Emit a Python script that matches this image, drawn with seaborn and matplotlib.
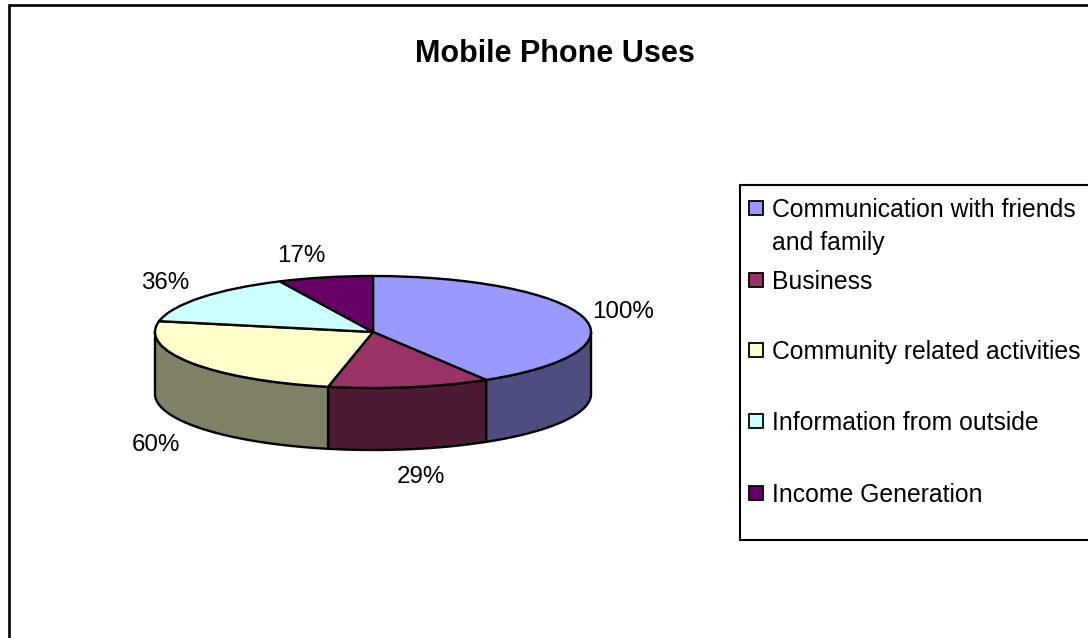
import matplotlib
matplotlib.use("Agg")
import matplotlib.pyplot as plt
from matplotlib.patches import Rectangle
from matplotlib.lines import Line2D
from matplotlib.transforms import Affine2D
import numpy as np
import seaborn as sns

# Survey responses
categories = [
    "Communication with friends\nand family",
    "Business",
    "Community related activities",
    "Information from outside",
    "Income Generation",
]
values = [100, 29, 60, 36, 17]
colors = ["#9999FF", "#993366", "#FFFFCC", "#CCFFFF", "#660066"]
title = "Mobile Phone Uses"

WIDTH, HEIGHT = 1088, 638
CX, CY, RX, RY = 373, 332, 218, 56   # top ellipse, in pixels
DEPTH = 62 / RY                      # wall height, in pie radii
EDGE = 1.7

sns.set_theme(style="white", font="Liberation Sans")
palette = sns.color_palette(colors)

fig = plt.figure(figsize=(WIDTH / 100, HEIGHT / 100), dpi=100, facecolor="white")
ax = fig.add_axes([0, 0, 1, 1])

# Pixel coordinates measured from the top-left corner of the figure
px = Affine2D().scale(1 / WIDTH, -1 / HEIGHT).translate(0, 1) + fig.transFigure

# Top face of the disc: an ordinary pie squashed by the axes scaling
ax.pie(
    values,
    colors=palette,
    startangle=90,
    counterclock=False,
    radius=1,
    wedgeprops=dict(edgecolor="black", linewidth=EDGE, joinstyle="round", zorder=3),
)
ax.set_aspect("auto")
ax.set_xlim(-CX / RX, (WIDTH - CX) / RX)
ax.set_ylim((CY - HEIGHT) / RY, CY / RY)
ax.axis("off")

# Side wall of the disc: only the front half of the rim is visible
edges = np.cumsum([0] + values) / sum(values) * 360
for start, stop, color in zip(edges[:-1], edges[1:], palette):
    lo, hi = max(start, 90), min(stop, 270)
    if lo >= hi:
        continue
    theta = np.radians(np.linspace(lo, hi, 80))
    x, y = np.sin(theta), np.cos(theta)
    ax.fill(
        np.r_[x, x[::-1]],
        np.r_[y, y[::-1] - DEPTH],
        facecolor=tuple(c * 0.5 for c in color),
        edgecolor="black",
        linewidth=EDGE,
        joinstyle="round",
        zorder=2,
    )

# Chart frame, open on the right and at the bottom
fig.add_artist(Line2D([9, 9, WIDTH], [HEIGHT, 5, 5], transform=px, color="black",
                      linewidth=1.9, solid_joinstyle="miter"))

fig.text(555, 54, title, transform=px, ha="center", va="center",
         fontsize=22, fontweight="bold", color="black")

# Percentage labels beside each slice
label_xy = [(623, 312), (421, 477), (156, 445), (165, 283), (301, 256)]
for value, (lx, ly) in zip(values, label_xy):
    fig.text(lx, ly, f"{value}%", transform=px, ha="center", va="center",
             fontsize=17.4, color="black")

# Legend box runs past the right edge of the figure
fig.add_artist(Rectangle((740, 185), 400, 355, transform=px, facecolor="white",
                         edgecolor="black", linewidth=1.5))
row_y = [208, 280, 350, 421, 493]
for name, color, y in zip(categories, palette, row_y):
    fig.add_artist(Rectangle((749, y - 7), 14, 14, transform=px, facecolor=color,
                             edgecolor="black", linewidth=1.3))
    fig.text(772, y - 10, name, transform=px, ha="left", va="top",
             fontsize=17.8, color="black", linespacing=1.45)

fig.savefig("out.png", dpi=100, facecolor="white")
